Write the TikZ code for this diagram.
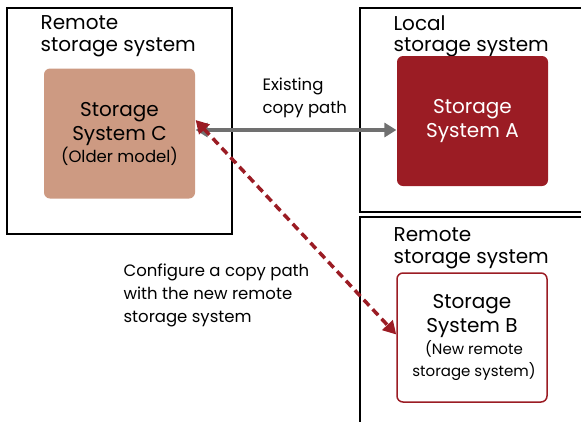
\documentclass[tikz,border=0pt]{standalone}
\usepackage{fontspec}
\setmainfont{Poppins}
\usetikzlibrary{arrows.meta, positioning, calc}
\definecolor{cred}{HTML}{9B1C24}
\definecolor{cbrown}{HTML}{CD9A82}
\definecolor{cgrey}{HTML}{707070}
\tikzset{
  every picture/.style={line width=1.2pt},
  site/.style={draw=black, line width=1.5pt, minimum width=#1, inner sep=0pt},
  sitetitle/.style={anchor=north west, align=left, font=\fontsize{20}{21.5}\selectfont, inner sep=0pt},
  sys/.style={rounded corners=6pt, align=center, minimum width=151pt, minimum height=130pt, inner sep=2pt, font=\fontsize{20}{24}\selectfont},
  copypath/.style={{Triangle[length=12pt,width=14pt]}-{Triangle[length=12pt,width=14pt]}, draw=cgrey, line width=3.5pt},
  newpath/.style={{Triangle[length=13pt,width=14pt]}-{Triangle[length=13pt,width=14pt]}, draw=cred, line width=3.5pt, dash pattern=on 8pt off 5pt},
  note/.style={align=left, anchor=north west, inner sep=0pt, font=\fontsize{16.5}{23}\selectfont},
}
\newcommand{\smallline}[1][16.5]{\\[-2pt]\fontsize{#1}{20}\selectfont}
\begin{document}
\begin{tikzpicture}[x=1pt, y=-1pt]
  \useasboundingbox (0,0) rectangle (581,421);
  \clip (0,0) rectangle (581,421);

  % sites
  \node[site=225pt, minimum height=226pt] (remL) at (119.5,121) {};
  \node[site=230pt, minimum height=204pt] (loc) at (475,110) {};
  \node[site=230pt, minimum height=220pt] (remR) at (475,327) {};
  \node[sitetitle] (remLt) at (40,15) {Remote\\storage system};
  \node[sitetitle] (loct) at (393,15) {Local\\storage system};
  \node[sitetitle] (remRt) at (393,227) {Remote\\storage system};

  % storage systems
  \node[sys, fill=cbrown] (sysC) at (119.5,133.5) {Storage\\System C\smallline (Older model)};
  \node[sys, fill=cred, text=white] (sysA) at (472.5,121) {Storage\\System A};
  \node[sys, draw=cred, line width=1.5pt, fill=white, minimum width=150pt, minimum height=129pt] (sysB) at (472,337.5) {Storage\\System B\smallline[15] (New remote\smallline[15] storage system)};

  % copy paths
  \coordinate (cpy) at (0,130);
  \draw[copypath] (sysC.east |- cpy) -- (sysA.west |- cpy);
  \node[note] (cpyt) at (262,77) {Existing\\copy path};
  \draw[newpath] ([yshift=13.5pt]sysC.east) -- ([yshift=3pt]sysB.west);
  \node[note] (newt) at (123,263) {Configure a copy path\\with the new remote\\storage system};
\end{tikzpicture}
\end{document}
